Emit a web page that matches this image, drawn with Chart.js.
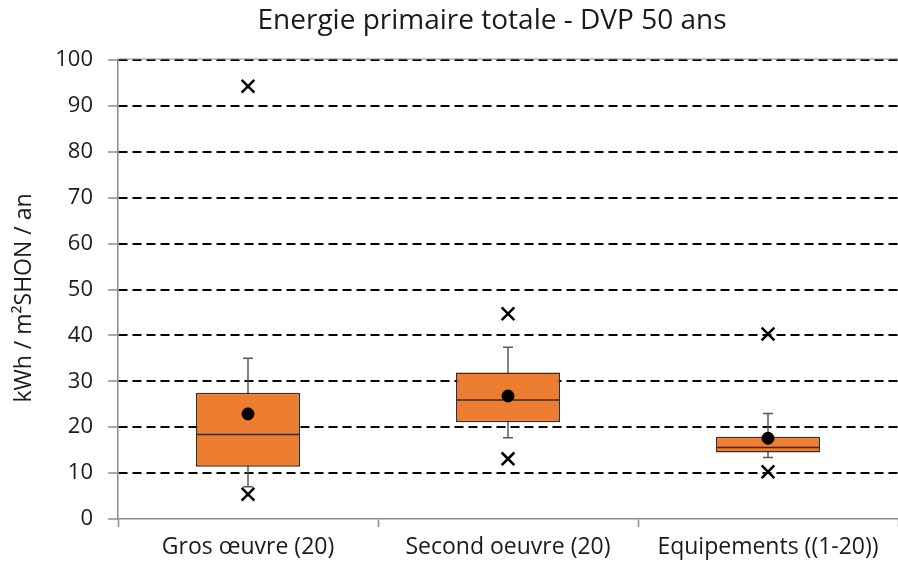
<!DOCTYPE html>
<html>
<head>
<meta charset="utf-8">
<script src="https://cdn.jsdelivr.net/npm/chart.js@4.4.1/dist/chart.umd.min.js"></script>
<style>
  html, body { margin: 0; padding: 0; background: #fff; overflow: hidden; }
  canvas { display: block; }
</style>
</head>
<body>
<canvas id="box" width="898" height="565"></canvas>
<script>
"use strict";

const CATEGORIES = ["Gros œuvre (20)", "Second oeuvre (20)", "Equipements ((1-20))"];
const WHISKER_LOW = [7.0, 17.7, 13.4];
const Q1 = [11.4, 21.1, 14.5];
const MEDIAN = [18.4, 25.9, 15.6];
const Q3 = [27.5, 31.9, 17.9];
const WHISKER_HIGH = [35.0, 37.4, 23.0];
const MEAN = [22.9, 26.8, 17.6];
const OUTLIER_HIGH = [94.3, 44.7, 40.3];
const OUTLIER_LOW = [5.4, 13.1, 10.3];
const Y_TICKS = [0, 10, 20, 30, 40, 50, 60, 70, 80, 90, 100];

const FONT = "'Open Sans', sans-serif";
const TEXT = "#1a1a1a";
const ORANGE = "#ED7D31";
const EDGE = "#3b2a1e";
const AXIS = "#8c8c8c";

// whiskers under the boxes, medians over them
const boxExtras = {
    id: "boxExtras",
    beforeDatasetsDraw(chart) {
        const ctx = chart.ctx, x = chart.scales.x, y = chart.scales.y;
        ctx.save();
        // thin frame line along the top gridline
        const top = y.getPixelForValue(100);
        ctx.strokeStyle = AXIS;
        ctx.lineWidth = 1;
        ctx.beginPath();
        ctx.moveTo(chart.chartArea.left, top - 1); ctx.lineTo(chart.chartArea.right, top - 1);
        ctx.stroke();

        ctx.strokeStyle = "#595959";
        ctx.lineWidth = 1.5;
        CATEGORIES.forEach((c, i) => {
            const cx = x.getPixelForValue(i);
            const lo = y.getPixelForValue(WHISKER_LOW[i]);
            const hi = y.getPixelForValue(WHISKER_HIGH[i]);
            ctx.beginPath();
            ctx.moveTo(cx, lo); ctx.lineTo(cx, hi);
            ctx.moveTo(cx - 5, lo); ctx.lineTo(cx + 5, lo);
            ctx.moveTo(cx - 5, hi); ctx.lineTo(cx + 5, hi);
            ctx.stroke();
        });
        ctx.restore();
    },
    afterDatasetDraw(chart, args) {
        if (args.meta.type !== "bar") return;
        const ctx = chart.ctx, y = chart.scales.y;
        ctx.save();
        ctx.strokeStyle = EDGE;
        ctx.lineWidth = 1.5;
        args.meta.data.forEach((bar, i) => {
            const py = y.getPixelForValue(MEDIAN[i]);
            const w = bar.width / 2;
            ctx.beginPath();
            ctx.moveTo(bar.x - w, py); ctx.lineTo(bar.x + w, py);
            ctx.stroke();
        });
        ctx.restore();
    }
};

// title and y axis caption sit off-centre in the original, so draw them by hand
const captions = {
    id: "captions",
    afterDraw(chart) {
        const ctx = chart.ctx;
        ctx.save();
        ctx.fillStyle = TEXT;
        ctx.textAlign = "center";
        ctx.textBaseline = "middle";
        ctx.font = "28px " + FONT;
        ctx.fillText("Energie primaire totale - DVP 50 ans", 492, 21);
        ctx.translate(24, 298);
        ctx.rotate(-Math.PI / 2);
        ctx.font = "23px " + FONT;
        ctx.fillText("kWh / m²SHON / an", 0, 0);
        ctx.restore();
    }
};

new Chart(document.getElementById("box"), {
    type: "bar",
    data: {
        labels: CATEGORIES,
        datasets: [
            {
                type: "bar",
                data: Q1.map((q, i) => [q, Q3[i]]),
                backgroundColor: ORANGE,
                borderColor: EDGE,
                borderWidth: 1.5,
                borderSkipped: false,
                barPercentage: 0.4,
                categoryPercentage: 1,
                order: 2
            },
            {
                type: "line",
                data: MEAN,
                showLine: false,
                pointStyle: "circle",
                pointRadius: 6,
                pointBackgroundColor: "#000",
                pointBorderColor: "#000",
                order: 0
            },
            {
                type: "line",
                data: OUTLIER_HIGH,
                showLine: false,
                pointStyle: "crossRot",
                pointRadius: 9,
                pointBorderWidth: 2.5,
                pointBorderColor: "#000",
                order: 1
            },
            {
                type: "line",
                data: OUTLIER_LOW,
                showLine: false,
                pointStyle: "crossRot",
                pointRadius: 9,
                pointBorderWidth: 2.5,
                pointBorderColor: "#000",
                order: 1
            }
        ]
    },
    options: {
        responsive: false,
        animation: false,
        layout: { autoPadding: false, padding: { top: 60, right: 0, left: 0, bottom: 0 } },
        plugins: {
            legend: { display: false },
            title: { display: false },
            tooltip: { enabled: false }
        },
        scales: {
            x: {
                offset: true,
                afterFit(scale) {
                    scale.height = 46;
                    scale.paddingLeft = 0;
                    scale.paddingRight = 0;
                },
                grid: {
                    offset: true,
                    drawOnChartArea: false,
                    tickLength: 8,
                    tickColor: AXIS,
                    tickWidth: 1.5
                },
                border: { color: AXIS, width: 1.5 },
                ticks: { color: TEXT, font: { family: FONT, size: 23 }, padding: 7, maxRotation: 0 }
            },
            y: {
                min: 0,
                max: 100,
                afterFit(scale) { scale.width = 118; },
                afterBuildTicks(scale) { scale.ticks = Y_TICKS.map(v => ({ value: v })); },
                grid: {
                    color: ctx => ctx.tick && ctx.tick.value === 0 ? "rgba(0,0,0,0)" : "#000",
                    lineWidth: 2,
                    tickLength: 10,
                    tickColor: AXIS,
                    tickWidth: 1.5,
                    tickBorderDash: []
                },
                border: { color: AXIS, width: 1.5, dash: [9, 5] },
                ticks: { color: TEXT, font: { family: FONT, size: 22 }, padding: 15 }
            }
        }
    },
    plugins: [boxExtras, captions]
});
</script>
</body>
</html>
